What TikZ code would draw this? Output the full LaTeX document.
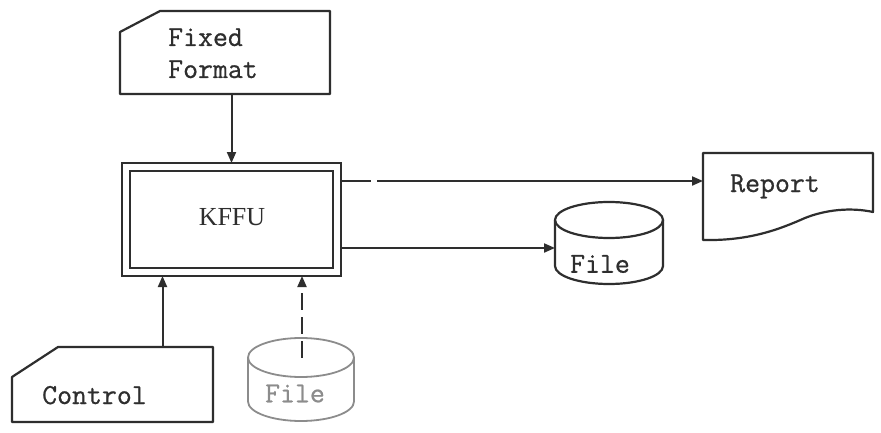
\documentclass[tikz,border=0pt]{standalone}
\usepackage{fontspec}
\setmainfont{Liberation Serif}
\newfontfamily\typefont[FakeBold=0.7]{Latin Modern Mono}
\usetikzlibrary{arrows.meta,calc}
\definecolor{ink}{HTML}{2E2E2E}
\definecolor{faint}{HTML}{8C8C8C}
\begin{document}
\begin{tikzpicture}[x=1pt,y=1pt,
  line/.style={draw=ink, line width=2.2pt, line join=round},
  flow/.style={draw=ink, line width=2pt, -{Triangle[length=11pt,width=9pt]}},
  box/.style={draw=none, inner sep=0pt, outer sep=0pt},
  tt/.style={font=\typefont\fontsize{29}{34}\selectfont, text=ink, inner sep=0pt},
]
\useasboundingbox (0,0) rectangle (881,432);
\fill[white] (0,0) rectangle (881,432);

% Fixed format card
\node[box, minimum width=210pt, minimum height=83pt] (ff) at (225,379.5) {};
\draw[line] ([xshift=40pt]ff.north west) -- (ff.north east) -- (ff.south east)
  -- (ff.south west) -- ([yshift=-21pt]ff.north west) -- cycle;
\node[tt, anchor=base west] (ffA) at (168,386) {Fixed};
\node[tt, anchor=base west] (ffB) at (168,354) {Format};

% KFFU program box (double frame)
\node[box, draw=ink, line width=2pt, minimum width=219pt, minimum height=113pt] (kffu) at (231.5,212.5) {};
\draw[ink, line width=2.6pt] ([shift={(8pt,8pt)}]kffu.south west) rectangle ([shift={(-8pt,-8pt)}]kffu.north east);
\node[font=\fontsize{26}{28}\selectfont, text=ink] (kffuText) at (232,215) {KFFU};

% Report document
\node[box, minimum width=170pt, minimum height=87pt] (rep) at (788,235.5) {};
\draw[line] (rep.south west) -- (rep.north west) -- (rep.north east) -- ([yshift=28pt]rep.south east)
  .. controls (850,225) and (825,222) .. (805,214)
  .. controls (780,203) and (750,191) .. (rep.south west) -- cycle;
\node[tt, anchor=base west] (repText) at (730,240) {Report};

% Output file
\node[box, minimum width=108pt, minimum height=82pt] (fileOut) at (609,189) {};
\draw[line] (555,212) -- (555,166) arc[start angle=180, end angle=360, x radius=54, y radius=18] -- (663,212);
\draw[line] (609,212) ellipse[x radius=54, y radius=18];
\node[tt] (fileOutText) at (600,168) {File};

% Control card
\node[box, minimum width=201pt, minimum height=75pt] (ctl) at (112.5,47.5) {};
\draw[line] ([xshift=46pt]ctl.north west) -- (ctl.north east) -- (ctl.south east)
  -- (ctl.south west) -- ([yshift=-30pt]ctl.north west) -- cycle;
\node[tt, anchor=base west] (ctlText) at (42,28) {Control};

% Optional input file
\node[box, minimum width=106pt, minimum height=83pt] (fileIn) at (301,52.5) {};
\draw[faint, line width=1.8pt] (248,74.5) -- (248,30.5) arc[start angle=180, end angle=360, x radius=53, y radius=19.5] -- (354,74.5);
\draw[faint, line width=1.8pt] (301,74.5) ellipse[x radius=53, y radius=19.5];
\node[tt, text=faint] (fileInText) at (295,38.5) {File};
\coordinate (fileInTop) at (302,74.5);

% Connectors
\draw[flow] (kffu.north |- ff.south) -- (kffu.north);
\draw[flow, dash pattern=on 30pt off 6pt on 500pt] ([yshift=-18pt]kffu.north east) -- ([yshift=-18pt]kffu.north east -| rep.west);
\draw[flow] ([yshift=28pt]kffu.south east) -- ([yshift=28pt]kffu.south east -| fileOut.west);
\draw[flow] ([xshift=50pt]ctl.north) -- ([xshift=50pt]ctl.north |- kffu.south);
\draw[flow, dash pattern=on 17pt off 7pt] (fileInTop) -- (fileInTop |- kffu.south);
\end{tikzpicture}
\end{document}
